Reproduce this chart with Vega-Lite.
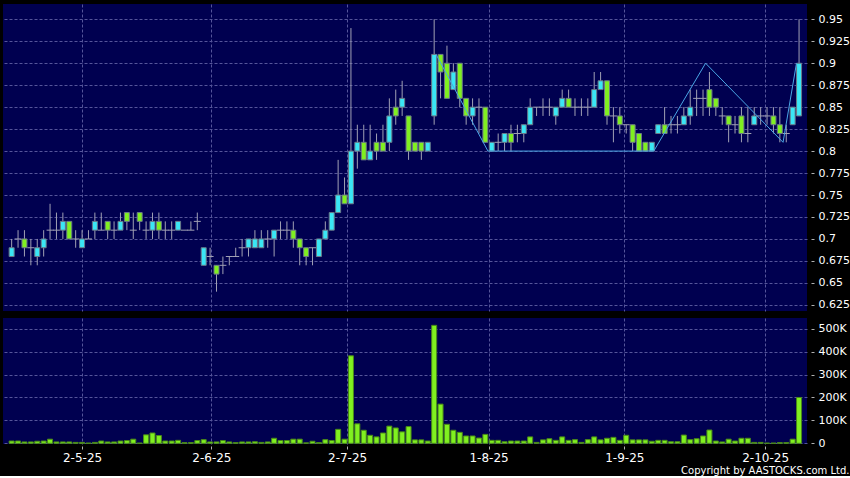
{
  "$schema": "https://vega.github.io/schema/vega-lite/v6.json",
  "background": "#000000",
  "padding": {"left": 3, "top": 4, "right": 0, "bottom": 0},
  "spacing": 7,
  "title": {"text": "Copyright by AASTOCKS.com Ltd.", "orient": "bottom", "anchor": "end", "frame": "bounds", "fontSize": 10, "font": "DejaVu Sans", "fontWeight": "normal", "color": "#ffffff", "offset": 3},
  "config": {
    "view": {"fill": "#000050", "stroke": null},
    "axis": {"labelFont": "DejaVu Sans", "labelColor": "#ffffff", "labelFontSize": 11, "labelOverlap": false, "tickCount": 40, "gridColor": "#55559a", "gridDash": [3, 2], "gridWidth": 1, "tickColor": "#b0b0b0", "domain": false, "title": null}
  },
  "datasets": {
    "ohlc": [
      {"i":0,"o":0.68,"h":0.70,"l":0.68,"c":0.69,"v":10000},
      {"i":1,"o":0.70,"h":0.71,"l":0.69,"c":0.70,"v":10000},
      {"i":2,"o":0.70,"h":0.71,"l":0.68,"c":0.69,"v":6000},
      {"i":3,"o":0.69,"h":0.70,"l":0.67,"c":0.69,"v":6000},
      {"i":4,"o":0.68,"h":0.70,"l":0.67,"c":0.69,"v":9000},
      {"i":5,"o":0.69,"h":0.71,"l":0.68,"c":0.70,"v":10000},
      {"i":6,"o":0.71,"h":0.74,"l":0.70,"c":0.71,"v":18000},
      {"i":7,"o":0.71,"h":0.73,"l":0.70,"c":0.71,"v":6000},
      {"i":8,"o":0.71,"h":0.73,"l":0.70,"c":0.72,"v":6000},
      {"i":9,"o":0.72,"h":0.72,"l":0.70,"c":0.70,"v":6000},
      {"i":10,"o":0.70,"h":0.71,"l":0.69,"c":0.70,"v":4000},
      {"i":11,"o":0.69,"h":0.71,"l":0.69,"c":0.70,"v":4000},
      {"i":12,"o":0.70,"h":0.71,"l":0.70,"c":0.70,"v":1000},
      {"i":13,"o":0.71,"h":0.73,"l":0.70,"c":0.72,"v":4000},
      {"i":14,"o":0.71,"h":0.73,"l":0.71,"c":0.71,"v":10000},
      {"i":15,"o":0.72,"h":0.72,"l":0.70,"c":0.71,"v":6000},
      {"i":16,"o":0.71,"h":0.72,"l":0.70,"c":0.71,"v":6000},
      {"i":17,"o":0.71,"h":0.73,"l":0.71,"c":0.72,"v":10000},
      {"i":18,"o":0.73,"h":0.73,"l":0.71,"c":0.72,"v":12000},
      {"i":19,"o":0.71,"h":0.73,"l":0.70,"c":0.71,"v":18000},
      {"i":20,"o":0.73,"h":0.73,"l":0.71,"c":0.72,"v":1000},
      {"i":21,"o":0.71,"h":0.72,"l":0.70,"c":0.71,"v":37000},
      {"i":22,"o":0.71,"h":0.73,"l":0.70,"c":0.72,"v":45000},
      {"i":23,"o":0.72,"h":0.73,"l":0.70,"c":0.71,"v":34000},
      {"i":24,"o":0.71,"h":0.72,"l":0.70,"c":0.71,"v":10000},
      {"i":25,"o":0.71,"h":0.72,"l":0.70,"c":0.71,"v":10000},
      {"i":26,"o":0.71,"h":0.72,"l":0.71,"c":0.72,"v":13000},
      {"i":27,"o":0.71,"h":0.71,"l":0.71,"c":0.71,"v":3000},
      {"i":28,"o":0.71,"h":0.72,"l":0.71,"c":0.71,"v":3000},
      {"i":29,"o":0.72,"h":0.73,"l":0.71,"c":0.72,"v":12000},
      {"i":30,"o":0.67,"h":0.69,"l":0.67,"c":0.69,"v":16000},
      {"i":31,"o":0.68,"h":0.69,"l":0.67,"c":0.68,"v":6000},
      {"i":32,"o":0.67,"h":0.67,"l":0.64,"c":0.66,"v":6000},
      {"i":33,"o":0.67,"h":0.68,"l":0.66,"c":0.67,"v":12000},
      {"i":34,"o":0.68,"h":0.68,"l":0.67,"c":0.68,"v":6000},
      {"i":35,"o":0.68,"h":0.69,"l":0.68,"c":0.68,"v":3000},
      {"i":36,"o":0.69,"h":0.70,"l":0.68,"c":0.69,"v":6000},
      {"i":37,"o":0.69,"h":0.70,"l":0.68,"c":0.70,"v":6000},
      {"i":38,"o":0.69,"h":0.71,"l":0.69,"c":0.70,"v":7000},
      {"i":39,"o":0.69,"h":0.71,"l":0.69,"c":0.70,"v":4000},
      {"i":40,"o":0.70,"h":0.71,"l":0.69,"c":0.70,"v":6000},
      {"i":41,"o":0.70,"h":0.71,"l":0.68,"c":0.71,"v":22000},
      {"i":42,"o":0.71,"h":0.72,"l":0.70,"c":0.71,"v":12000},
      {"i":43,"o":0.71,"h":0.72,"l":0.70,"c":0.71,"v":12000},
      {"i":44,"o":0.71,"h":0.72,"l":0.69,"c":0.70,"v":18000},
      {"i":45,"o":0.70,"h":0.70,"l":0.67,"c":0.69,"v":18000},
      {"i":46,"o":0.69,"h":0.69,"l":0.67,"c":0.68,"v":2000},
      {"i":47,"o":0.69,"h":0.69,"l":0.67,"c":0.69,"v":9000},
      {"i":48,"o":0.68,"h":0.70,"l":0.68,"c":0.70,"v":3000},
      {"i":49,"o":0.70,"h":0.72,"l":0.70,"c":0.71,"v":16000},
      {"i":50,"o":0.71,"h":0.73,"l":0.71,"c":0.73,"v":12000},
      {"i":51,"o":0.73,"h":0.79,"l":0.73,"c":0.75,"v":61000},
      {"i":52,"o":0.75,"h":0.77,"l":0.74,"c":0.74,"v":18000},
      {"i":53,"o":0.74,"h":0.94,"l":0.74,"c":0.80,"v":382000},
      {"i":54,"o":0.80,"h":0.83,"l":0.78,"c":0.81,"v":85000},
      {"i":55,"o":0.81,"h":0.83,"l":0.79,"c":0.79,"v":57000},
      {"i":56,"o":0.79,"h":0.83,"l":0.79,"c":0.80,"v":35000},
      {"i":57,"o":0.81,"h":0.82,"l":0.79,"c":0.80,"v":28000},
      {"i":58,"o":0.81,"h":0.83,"l":0.80,"c":0.80,"v":45000},
      {"i":59,"o":0.81,"h":0.86,"l":0.80,"c":0.84,"v":75000},
      {"i":60,"o":0.85,"h":0.87,"l":0.83,"c":0.84,"v":67000},
      {"i":61,"o":0.85,"h":0.88,"l":0.84,"c":0.86,"v":50000},
      {"i":62,"o":0.84,"h":0.84,"l":0.79,"c":0.80,"v":73000},
      {"i":63,"o":0.81,"h":0.81,"l":0.80,"c":0.80,"v":15000},
      {"i":64,"o":0.81,"h":0.81,"l":0.79,"c":0.80,"v":15000},
      {"i":65,"o":0.80,"h":0.81,"l":0.80,"c":0.81,"v":10000},
      {"i":66,"o":0.84,"h":0.95,"l":0.83,"c":0.91,"v":515000},
      {"i":67,"o":0.91,"h":0.91,"l":0.86,"c":0.89,"v":171000},
      {"i":68,"o":0.90,"h":0.92,"l":0.86,"c":0.86,"v":83000},
      {"i":69,"o":0.87,"h":0.90,"l":0.87,"c":0.89,"v":57000},
      {"i":70,"o":0.90,"h":0.90,"l":0.85,"c":0.86,"v":48000},
      {"i":71,"o":0.86,"h":0.86,"l":0.83,"c":0.84,"v":32000},
      {"i":72,"o":0.84,"h":0.86,"l":0.83,"c":0.85,"v":32000},
      {"i":73,"o":0.85,"h":0.86,"l":0.82,"c":0.85,"v":23000},
      {"i":74,"o":0.85,"h":0.85,"l":0.81,"c":0.81,"v":39000},
      {"i":75,"o":0.80,"h":0.81,"l":0.80,"c":0.81,"v":13000},
      {"i":76,"o":0.81,"h":0.82,"l":0.80,"c":0.81,"v":13000},
      {"i":77,"o":0.81,"h":0.82,"l":0.80,"c":0.82,"v":7000},
      {"i":78,"o":0.82,"h":0.83,"l":0.80,"c":0.81,"v":10000},
      {"i":79,"o":0.82,"h":0.83,"l":0.81,"c":0.82,"v":10000},
      {"i":80,"o":0.82,"h":0.83,"l":0.81,"c":0.83,"v":10000},
      {"i":81,"o":0.83,"h":0.86,"l":0.83,"c":0.85,"v":28000},
      {"i":82,"o":0.85,"h":0.85,"l":0.84,"c":0.85,"v":4000},
      {"i":83,"o":0.85,"h":0.86,"l":0.84,"c":0.85,"v":15000},
      {"i":84,"o":0.85,"h":0.86,"l":0.84,"c":0.85,"v":20000},
      {"i":85,"o":0.84,"h":0.85,"l":0.83,"c":0.85,"v":13000},
      {"i":86,"o":0.85,"h":0.87,"l":0.85,"c":0.86,"v":28000},
      {"i":87,"o":0.86,"h":0.87,"l":0.85,"c":0.85,"v":13000},
      {"i":88,"o":0.85,"h":0.86,"l":0.84,"c":0.85,"v":16000},
      {"i":89,"o":0.85,"h":0.86,"l":0.84,"c":0.85,"v":4000},
      {"i":90,"o":0.85,"h":0.86,"l":0.84,"c":0.85,"v":16000},
      {"i":91,"o":0.85,"h":0.89,"l":0.85,"c":0.87,"v":28000},
      {"i":92,"o":0.87,"h":0.89,"l":0.87,"c":0.88,"v":15000},
      {"i":93,"o":0.88,"h":0.88,"l":0.83,"c":0.84,"v":22000},
      {"i":94,"o":0.84,"h":0.85,"l":0.81,"c":0.84,"v":26000},
      {"i":95,"o":0.84,"h":0.85,"l":0.82,"c":0.83,"v":13000},
      {"i":96,"o":0.83,"h":0.83,"l":0.82,"c":0.83,"v":35000},
      {"i":97,"o":0.83,"h":0.83,"l":0.80,"c":0.81,"v":15000},
      {"i":98,"o":0.82,"h":0.82,"l":0.80,"c":0.80,"v":15000},
      {"i":99,"o":0.81,"h":0.81,"l":0.80,"c":0.80,"v":15000},
      {"i":100,"o":0.80,"h":0.81,"l":0.80,"c":0.81,"v":9000},
      {"i":101,"o":0.82,"h":0.83,"l":0.82,"c":0.83,"v":13000},
      {"i":102,"o":0.83,"h":0.85,"l":0.82,"c":0.82,"v":13000},
      {"i":103,"o":0.83,"h":0.84,"l":0.82,"c":0.83,"v":7000},
      {"i":104,"o":0.83,"h":0.84,"l":0.82,"c":0.83,"v":7000},
      {"i":105,"o":0.83,"h":0.85,"l":0.83,"c":0.84,"v":36000},
      {"i":106,"o":0.84,"h":0.87,"l":0.83,"c":0.85,"v":16000},
      {"i":107,"o":0.86,"h":0.87,"l":0.84,"c":0.86,"v":20000},
      {"i":108,"o":0.86,"h":0.87,"l":0.84,"c":0.86,"v":32000},
      {"i":109,"o":0.87,"h":0.89,"l":0.84,"c":0.85,"v":58000},
      {"i":110,"o":0.86,"h":0.86,"l":0.84,"c":0.85,"v":10000},
      {"i":111,"o":0.84,"h":0.85,"l":0.83,"c":0.84,"v":6000},
      {"i":112,"o":0.84,"h":0.84,"l":0.81,"c":0.83,"v":18000},
      {"i":113,"o":0.83,"h":0.84,"l":0.82,"c":0.83,"v":10000},
      {"i":114,"o":0.84,"h":0.85,"l":0.81,"c":0.82,"v":22000},
      {"i":115,"o":0.82,"h":0.85,"l":0.81,"c":0.82,"v":22000},
      {"i":116,"o":0.83,"h":0.85,"l":0.83,"c":0.84,"v":4000},
      {"i":117,"o":0.84,"h":0.85,"l":0.83,"c":0.84,"v":4000},
      {"i":118,"o":0.84,"h":0.85,"l":0.83,"c":0.84,"v":1000},
      {"i":119,"o":0.84,"h":0.85,"l":0.82,"c":0.83,"v":1000},
      {"i":120,"o":0.83,"h":0.85,"l":0.81,"c":0.82,"v":3000},
      {"i":121,"o":0.82,"h":0.83,"l":0.81,"c":0.82,"v":3000},
      {"i":122,"o":0.83,"h":0.85,"l":0.83,"c":0.85,"v":18000},
      {"i":123,"o":0.84,"h":0.95,"l":0.84,"c":0.90,"v":200000}
    ],
    "trend": [
      {"i":66.3,"p":0.91},
      {"i":74.4,"p":0.80},
      {"i":100.3,"p":0.80},
      {"i":108.4,"p":0.90},
      {"i":120.5,"p":0.81},
      {"i":122.6,"p":0.90}
    ]
  },
  "vconcat": [
    {
      "width": 804,
      "height": 307,
      "layer": [
        {
          "data": {"name": "ohlc"},
          "mark": {"type": "rule", "color": "#a0a0b4", "strokeWidth": 1},
          "encoding": {
            "x": {"field": "i", "type": "quantitative", "scale": {"domain": [-0.57, 123.46], "nice": false, "zero": false},
              "axis": {"values": [11, 31.2, 52.4, 74.5, 95.7, 117.7], "labels": false, "ticks": false, "grid": true}},
            "y": {"field": "l", "type": "quantitative", "scale": {"domain": [0.618, 0.9674], "nice": false, "zero": false},
              "axis": {"orient": "right", "values": [0.625, 0.65, 0.675, 0.7, 0.725, 0.75, 0.775, 0.8, 0.825, 0.85, 0.875, 0.9, 0.925, 0.95], "tickCount": 40, "format": ".3~f", "grid": true, "tickSize": 3, "offset": 4, "labelPadding": 4}},
            "y2": {"field": "h"}
          }
        },
        {
          "data": {"name": "ohlc"},
          "transform": [{"filter": "datum.o != datum.c"}],
          "mark": {"type": "bar", "size": 5, "stroke": "#6a7888", "strokeWidth": 1},
          "encoding": {
            "x": {"field": "i", "type": "quantitative"},
            "y": {"field": "o", "type": "quantitative"},
            "y2": {"field": "c"},
            "color": {"condition": {"test": "datum.c > datum.o", "value": "#3ae6f5"}, "value": "#80f020"}
          }
        },
        {
          "data": {"name": "ohlc"},
          "transform": [{"filter": "datum.o == datum.c"}],
          "mark": {"type": "tick", "orient": "horizontal", "size": 7, "thickness": 1, "color": "#a0a0b4", "opacity": 1},
          "encoding": {
            "x": {"field": "i", "type": "quantitative"},
            "y": {"field": "o", "type": "quantitative"}
          }
        },
        {
          "data": {"name": "trend"},
          "mark": {"type": "line", "color": "#4aa6e6", "strokeWidth": 1},
          "encoding": {
            "x": {"field": "i", "type": "quantitative"},
            "y": {"field": "p", "type": "quantitative"}
          }
        }
      ]
    },
    {
      "width": 804,
      "height": 126,
      "data": {"name": "ohlc"},
      "mark": {"type": "bar", "size": 5, "color": "#80f020", "stroke": "#4a8a18", "strokeWidth": 1},
      "encoding": {
        "x": {"field": "i", "type": "quantitative", "scale": {"domain": [-0.57, 123.46], "nice": false, "zero": false},
          "axis": {"values": [11, 31.2, 52.4, 74.5, 95.7, 117.7], "tickCount": 40, "grid": true, "tickSize": 3, "offset": 2, "labelPadding": 3, "labelFontSize": 12,
            "labelExpr": "datum.value < 20 ? '2-5-25' : datum.value < 40 ? '2-6-25' : datum.value < 60 ? '2-7-25' : datum.value < 85 ? '1-8-25' : datum.value < 105 ? '1-9-25' : '2-10-25'"}},
        "y": {"field": "v", "type": "quantitative", "scale": {"domain": [-3000, 547000], "nice": false, "zero": false},
          "axis": {"orient": "right", "values": [0, 100000, 200000, 300000, 400000, 500000], "tickCount": 40, "grid": true, "tickSize": 3, "offset": 4, "labelPadding": 4,
            "labelExpr": "datum.value == 0 ? '0' : (datum.value / 1000) + 'K'"}}
      }
    }
  ]
}
